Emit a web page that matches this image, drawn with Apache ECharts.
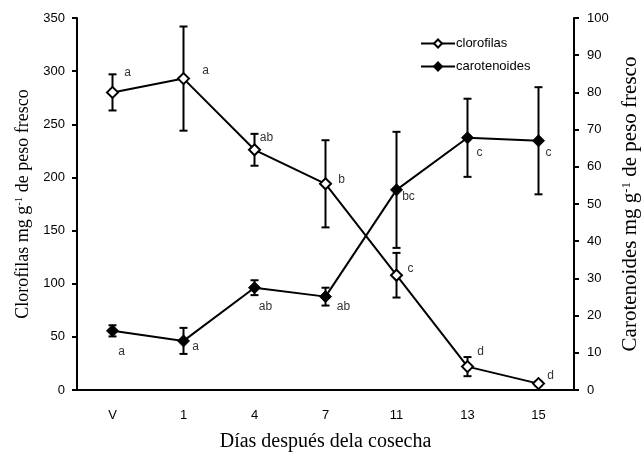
<!DOCTYPE html>
<html>
<head>
<meta charset="utf-8">
<script src="https://cdn.jsdelivr.net/npm/echarts@6/dist/echarts.min.js"></script>
<style>
  html, body { margin: 0; padding: 0; background: #fff; }
  #chart { width: 644px; height: 452px; }
</style>
</head>
<body>
<div id="chart"></div>
<script>
// data
const days = ["V", "1", "4", "7", "11", "13", "15"];
const clorofilas = [280, 293, 226, 194, 108, 22, 6];
const clorofilasErr = [17, 49, 15, 41, 21, 9, 2];
const clorofilasLetters = ["a", "a", "ab", "b", "c", "d", "d"];
const carotenoides = [15.9, 13.2, 27.5, 25.1, 53.8, 67.8, 67.0];
const carotenoidesErr = [1.5, 3.5, 2, 2.4, 15.6, 10.5, 14.4];
const carotenoidesLetters = ["a", "a", "ab", "ab", "bc", "c", "c"];
const leftTicks = { min: 0, max: 350, interval: 50 };
const rightTicks = { min: 0, max: 100, interval: 10 };

// where the letters sit next to each point (px)
const clorofilasLabelOffset = [[15, -20], [22, -8], [12, -12], [16, -4], [14, -7], [13, -15], [12, -8]];
const carotenoidesLabelOffset = [[9, 21], [12, 6], [11, 19], [18, 10], [12, 7], [12, 15], [10, 12]];

const chart = echarts.init(document.getElementById("chart"));

function withLabels(values, letters, offsets) {
  return values.map((v, i) => ({
    value: v,
    label: { formatter: letters[i], offset: offsets[i] }
  }));
}

function errData(values, errs) {
  return values.map((v, i) => [i, v - errs[i], v + errs[i]]);
}

function renderErr(params, api) {
  const lo = api.coord([api.value(0), api.value(1)]);
  const hi = api.coord([api.value(0), api.value(2)]);
  const cap = 4;
  const style = { stroke: "#000", lineWidth: 2 };
  return {
    type: "group",
    children: [
      { type: "line", shape: { x1: lo[0], y1: lo[1], x2: hi[0], y2: hi[1] }, style: style },
      { type: "line", shape: { x1: lo[0] - cap, y1: lo[1], x2: lo[0] + cap, y2: lo[1] }, style: style },
      { type: "line", shape: { x1: hi[0] - cap, y1: hi[1], x2: hi[0] + cap, y2: hi[1] }, style: style }
    ]
  };
}

const tickFont = { fontFamily: "Liberation Sans", fontSize: 13, color: "#000" };

function serifName(size) {
  return {
    fontFamily: "Liberation Serif",
    fontSize: size,
    color: "#000",
    rich: { sup: { fontFamily: "Liberation Serif", fontSize: Math.round(size * 0.62), color: "#000", padding: [0, 0, 9, 0] } }
  };
}

chart.setOption({
  animation: false,
  grid: { left: 77, right: 70, top: 18, bottom: 62, outerBoundsMode: "none" },
  legend: {
    orient: "vertical",
    left: 415,
    top: 32,
    itemWidth: 34,
    itemHeight: 10,
    itemGap: 10,
    textStyle: { fontFamily: "Liberation Sans", fontSize: 13, color: "#000", padding: [0, 0, 0, -4] },
    data: ["clorofilas", "carotenoides"]
  },
  xAxis: {
    type: "category",
    data: days,
    boundaryGap: true,
    name: "Días después dela cosecha",
    nameLocation: "middle",
    nameGap: 42,
    nameTextStyle: serifName(20),
    axisLine: { lineStyle: { color: "#000", width: 2 } },
    axisTick: { length: 5, lineStyle: { color: "#000", width: 2 } },
    axisLabel: Object.assign({ margin: 19 }, tickFont)
  },
  yAxis: [
    {
      type: "value",
      min: leftTicks.min,
      max: leftTicks.max,
      interval: leftTicks.interval,
      name: "Clorofilas mg g{sup|-1} de peso fresco",
      nameLocation: "middle",
      nameGap: 41,
      nameTextStyle: serifName(18),
      axisLine: { show: true, lineStyle: { color: "#000", width: 2 } },
      axisTick: { show: true, length: 5, lineStyle: { color: "#000", width: 2 } },
      axisLabel: Object.assign({ margin: 12 }, tickFont),
      splitLine: { show: false }
    },
    {
      type: "value",
      min: rightTicks.min,
      max: rightTicks.max,
      interval: rightTicks.interval,
      position: "right",
      name: "Carotenoides mg g{sup|-1} de peso fresco",
      nameLocation: "middle",
      nameGap: 39,
      nameRotate: 90,
      nameTextStyle: serifName(21),
      axisLine: { show: true, lineStyle: { color: "#000", width: 2 } },
      axisTick: { show: true, length: 5, lineStyle: { color: "#000", width: 2 } },
      axisLabel: Object.assign({ margin: 13 }, tickFont),
      splitLine: { show: false }
    }
  ],
  series: [
    {
      type: "custom",
      name: "clorofilas-err",
      yAxisIndex: 0,
      renderItem: renderErr,
      encode: { x: 0, y: [1, 2] },
      data: errData(clorofilas, clorofilasErr),
      z: 1
    },
    {
      type: "custom",
      name: "carotenoides-err",
      yAxisIndex: 1,
      renderItem: renderErr,
      encode: { x: 0, y: [1, 2] },
      data: errData(carotenoides, carotenoidesErr),
      z: 1
    },
    {
      name: "clorofilas",
      type: "line",
      yAxisIndex: 0,
      symbol: "diamond",
      symbolSize: 11,
      lineStyle: { color: "#000", width: 2 },
      itemStyle: { color: "#fff", borderColor: "#000", borderWidth: 2 },
      label: { show: true, position: "inside", fontFamily: "Liberation Sans", fontSize: 12, color: "#333" },
      data: withLabels(clorofilas, clorofilasLetters, clorofilasLabelOffset),
      z: 3
    },
    {
      name: "carotenoides",
      type: "line",
      yAxisIndex: 1,
      symbol: "diamond",
      symbolSize: 12,
      lineStyle: { color: "#000", width: 2 },
      itemStyle: { color: "#000", borderColor: "#000", borderWidth: 1 },
      label: { show: true, position: "inside", fontFamily: "Liberation Sans", fontSize: 12, color: "#333" },
      data: withLabels(carotenoides, carotenoidesLetters, carotenoidesLabelOffset),
      z: 3
    }
  ]
});
</script>
</body>
</html>
